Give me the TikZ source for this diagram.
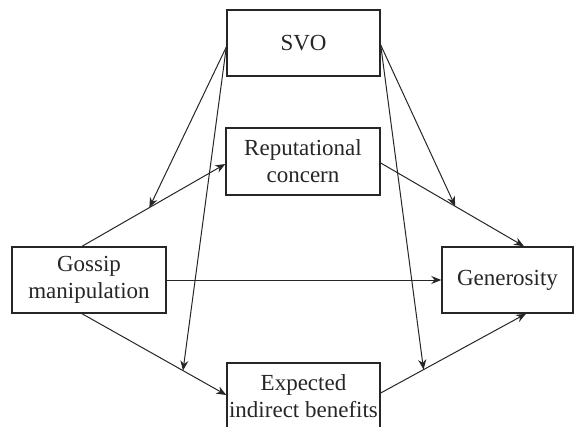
\documentclass[tikz,border=0pt]{standalone}
\usepackage{fontspec}
\setmainfont{Liberation Serif}
\usetikzlibrary{arrows.meta,calc}
\begin{document}
\begin{tikzpicture}[x=1pt,y=1pt,
  box/.style={draw=black!85,line width=1.4pt,rectangle,inner sep=0pt,align=center,
    font=\fontsize{23}{27}\selectfont,text=black!85},
  conn/.style={line width=1pt,draw=black!85,-{Stealth[length=10pt,width=8pt]}}]
\useasboundingbox (0,0) rectangle (585,-427);
\clip (0,0) rectangle (585,-427);
\node[box,minimum width=153pt,minimum height=66pt] (svo) at (303.5,-43) {SVO};
\node[box,minimum width=154pt,minimum height=67pt] (rep) at (303,-161.5) {Reputational\\concern};
\node[box,minimum width=154pt,minimum height=66pt] (gos) at (89,-280) {Gossip\\manipulation};
\node[box,minimum width=131pt,minimum height=66pt] (gen) at (507.5,-280) {Generosity};
\node[box,minimum width=153pt,minimum height=66pt] (exp) at (303.5,-396) {Expected\\indirect benefits};
% connectors
\draw[conn] ($(gos.north)+(-7,0)$) -- coordinate[pos=0.47] (m1) ($(rep.west)+(0,-2.5)$);
\draw[conn] ($(gos.south)+(-7,0)$) -- coordinate[pos=0.70] (m2) ($(exp.west)+(0,1)$);
\draw[conn] (gos.east) -- (gen.west);
\draw[conn] ($(rep.east)+(0,-1.5)$) -- coordinate[pos=0.52] (m3) ($(gen.north)+(16.5,0)$);
\draw[conn] ($(exp.east)+(0,3)$) -- coordinate[pos=0.295] (m4) ($(gen.south)+(18.5,0)$);
% moderators
\coordinate (sl) at ($(svo.west)+(0,-4)$);
\coordinate (sr) at ($(svo.east)+(0,-2)$);
\draw[conn] (sl) -- (m1);
\draw[conn] (sl) -- (m2);
\draw[conn] (sr) -- (m3);
\draw[conn] (sr) -- (m4);
\end{tikzpicture}
\end{document}
